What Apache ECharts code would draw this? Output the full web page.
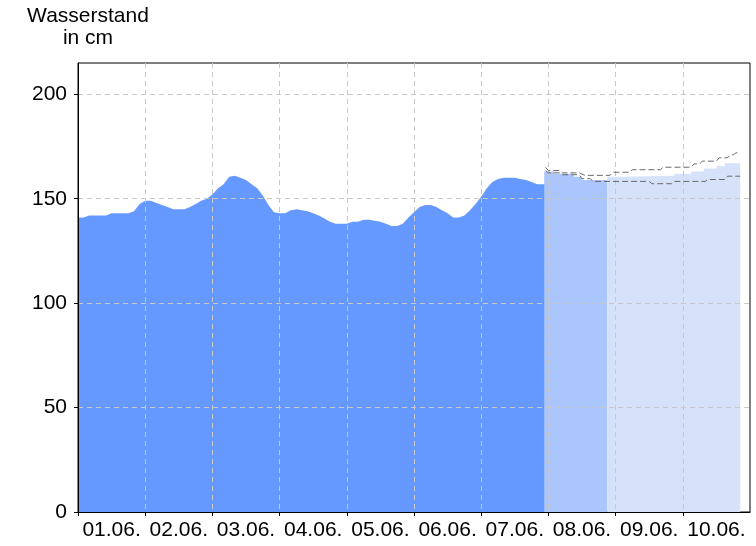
<!DOCTYPE html>
<html>
<head>
<meta charset="utf-8">
<script src="https://cdn.jsdelivr.net/npm/echarts@6/dist/echarts.min.js"></script>
<style>
html,body{margin:0;padding:0;background:#fff;}
#chart{width:756px;height:546px;}
</style>
</head>
<body>
<div id="chart"></div>
<script>
// ---- data ----
const dayLabels = ['01.06.','02.06.','03.06.','04.06.','05.06.','06.06.','07.06.','08.06.','09.06.','10.06.'];
const yTicks = [0, 50, 100, 150, 200];

// observed water level (cm), one value every 2 hours starting 01.06. 00:00
const obsStepHours = 2;
const obsEndHour = 166.8;
const obsValues = [
  141,141,142,142,142,142,143,143,143,143,144,147.5,
  149,149,148,147,146,145,145,145,146,147.5,149,150,
  152,155,157,160.5,161,160,159,157,155,151.5,147,143.5,
  143,143,144.5,145,144.5,144,143,142,140.5,139,138,138,
  138,139,139,140,140,139.5,139,138,137,137,138,141,
  143.5,146,147,147,146,144.5,143,141,141,142,144.5,147.5,
  151,155,158,159.5,160,160,160,159.5,159,158,157,157
];

// forecast (hours since 01.06. 00:00)
const fcNearHours  = [166.5, 170, 177, 180, 189];
const fcNearValues = [163, 162, 160.5, 159, 159];
const fcFarHours   = [189, 195, 213, 219, 223.5, 228, 231, 236.5];
const fcFarValues  = [160.5, 161, 162, 163, 164.5, 165.5, 167, 167];

const upperHours  = [167, 168, 172, 173, 179, 181, 190, 191, 197, 198, 208, 209, 219, 220, 222, 223, 228, 229, 232, 233, 234, 235, 236.5];
const upperValues = [165, 163.5, 163.5, 162.4, 162.4, 161.2, 161.2, 162.7, 162.7, 163.9, 163.9, 165.1, 165.1, 166.7, 166.7, 168, 168, 169.6, 169.6, 171, 171, 172, 172];
const lowerHours  = [167, 168, 172, 173, 179, 180, 183, 184, 204, 205, 212, 213, 224, 225, 231, 232, 236.5];
const lowerValues = [163.5, 162.4, 162.4, 161.5, 161.5, 159.6, 159.6, 158.3, 158.3, 157.2, 157.2, 158.3, 158.3, 159.2, 159.2, 160.8, 160.8];

// ---- build ----
const pairs = (xs, ys) => xs.map((x, i) => [x, ys[i]]);
const obsData = obsValues.map((v, i) => [i * obsStepHours, v]);
obsData.push([obsEndHour, obsValues[obsValues.length - 1]]);
const labelHours = dayLabels.map((_, i) => i * 24 + 12);
const dayBoundaries = dayLabels.map((_, i) => i * 24);

const FONT = 'Liberation Sans, Arial, sans-serif';
const chart = echarts.init(document.getElementById('chart'), null, {renderer: 'canvas'});
chart.setOption({
  animation: false,
  backgroundColor: '#ffffff',
  title: {
    text: 'Wasserstand\nin cm',
    left: 83,
    top: 0,
    textAlign: 'center',
    textStyle: {fontFamily: FONT, fontSize: 21, fontWeight: 'normal', color: '#000', lineHeight: 22}
  },
  grid: {left: 78, right: 6, top: 63, bottom: 34, show: true, borderColor: '#000', borderWidth: 1, backgroundColor: 'transparent'},
  xAxis: {
    type: 'value',
    min: 0,
    max: 240,
    interval: 24,
    z: 5,
    axisLine: {show: true, lineStyle: {color: '#000', width: 1}},
    axisTick: {show: true, length: 4, lineStyle: {color: '#000'}, customValues: dayBoundaries},
    splitLine: {show: true, lineStyle: {color: '#c8c8c8', type: [5, 4], width: 1}},
    axisLabel: {
      customValues: labelHours,
      margin: 8,
      fontFamily: FONT, fontSize: 21, color: '#000',
      formatter: v => dayLabels[Math.round((v - 12) / 24)] || ''
    }
  },
  yAxis: {
    type: 'value',
    min: 0,
    max: 215,
    interval: 50,
    z: 5,
    axisLine: {show: true, lineStyle: {color: '#000', width: 1}},
    axisTick: {show: true, length: 4, lineStyle: {color: '#000'}, customValues: yTicks},
    splitLine: {show: true, lineStyle: {color: '#c8c8c8', type: [5, 4], width: 1}},
    axisLabel: {
      customValues: yTicks,
      margin: 11,
      fontFamily: FONT, fontSize: 21, color: '#000'
    }
  },
  series: [
    {
      type: 'line', name: 'Messwerte', data: obsData, symbol: 'none',
      lineStyle: {width: 0}, areaStyle: {color: '#6699ff', opacity: 1}, z: 2
    },
    {
      type: 'line', name: 'Vorhersage', data: pairs(fcNearHours, fcNearValues), step: 'end', symbol: 'none',
      lineStyle: {width: 0}, areaStyle: {color: '#abc5fd', opacity: 1}, z: 2
    },
    {
      type: 'line', name: 'Abschätzung', data: pairs(fcFarHours, fcFarValues), step: 'end', symbol: 'none',
      lineStyle: {width: 0}, areaStyle: {color: '#d6e1fa', opacity: 1}, z: 2
    },
    {
      type: 'line', name: 'obere Grenze', data: pairs(upperHours, upperValues), symbol: 'none',
      lineStyle: {color: '#6a6a6a', width: 1, type: [6, 3]}, z: 6
    },
    {
      type: 'line', name: 'untere Grenze', data: pairs(lowerHours, lowerValues), symbol: 'none',
      lineStyle: {color: '#6a6a6a', width: 1, type: [6, 3]}, z: 6
    }
  ]
});
</script>
</body>
</html>
